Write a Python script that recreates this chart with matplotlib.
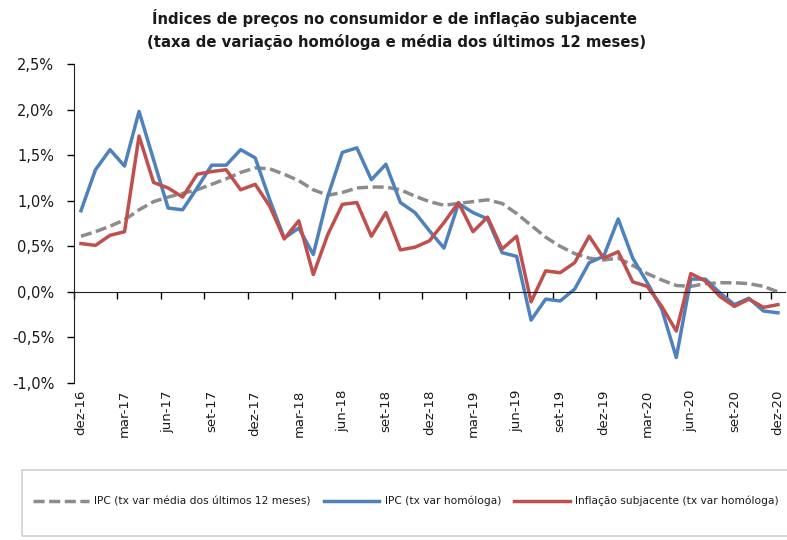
import matplotlib
matplotlib.use("Agg")
import matplotlib.pyplot as plt
from matplotlib.patches import Rectangle
from matplotlib.ticker import FuncFormatter

# dez-16 .. dez-20, monthly (49 points)
ipc_media12 = [0.61, 0.66, 0.72, 0.79, 0.90, 0.99, 1.04, 1.08, 1.12, 1.18, 1.24, 1.31, 1.36,
               1.35, 1.29, 1.22, 1.12, 1.06, 1.09, 1.14, 1.15, 1.15, 1.12, 1.05, 0.99,
               0.95, 0.97, 0.99, 1.01, 0.97, 0.86, 0.73, 0.60, 0.50, 0.42, 0.37, 0.35,
               0.37, 0.29, 0.20, 0.13, 0.07, 0.06, 0.09, 0.10, 0.10, 0.09, 0.06, 0.00]
ipc_homologa = [0.89, 1.34, 1.56, 1.38, 1.98, 1.45, 0.92, 0.90, 1.14, 1.39, 1.39, 1.56, 1.47,
                1.01, 0.59, 0.70, 0.41, 1.05, 1.53, 1.58, 1.23, 1.40, 0.98, 0.87, 0.67,
                0.48, 0.97, 0.87, 0.80, 0.43, 0.39, -0.31, -0.08, -0.10, 0.03, 0.32, 0.39,
                0.80, 0.37, 0.10, -0.19, -0.72, 0.14, 0.14, -0.01, -0.14, -0.07, -0.21, -0.23]
subjacente = [0.53, 0.51, 0.62, 0.66, 1.71, 1.20, 1.14, 1.04, 1.29, 1.32, 1.34, 1.12, 1.18,
              0.94, 0.58, 0.78, 0.19, 0.63, 0.96, 0.98, 0.61, 0.87, 0.46, 0.49, 0.56,
              0.76, 0.98, 0.66, 0.82, 0.47, 0.61, -0.11, 0.23, 0.21, 0.32, 0.61, 0.37,
              0.44, 0.11, 0.06, -0.16, -0.43, 0.20, 0.12, -0.05, -0.16, -0.08, -0.17, -0.14]
tick_labels = ['dez-16', 'mar-17', 'jun-17', 'set-17', 'dez-17', 'mar-18', 'jun-18', 'set-18',
               'dez-18', 'mar-19', 'jun-19', 'set-19', 'dez-19', 'mar-20', 'jun-20', 'set-20',
               'dez-20']
y_ticks = [-1.0, -0.5, 0.0, 0.5, 1.0, 1.5, 2.0, 2.5]

labels = ['IPC (tx var média dos últimos 12 meses)', 'IPC (tx var homóloga)',
          'Inflação subjacente (tx var homóloga)']

txt = '#1a1a1a'
x = list(range(len(ipc_homologa)))

fig = plt.figure(figsize=(7.87, 5.40), dpi=100)
ax = fig.add_axes([73.7 / 787, 1 - 383 / 540, 711.5 / 787, 319 / 540])

ax.plot(x, ipc_media12, color='#8c8c8c', lw=2.5, dashes=(3.2, 1.3), label=labels[0])
ax.plot(x, ipc_homologa, color='#4F81BD', lw=2.5, label=labels[1])
ax.plot(x, subjacente, color='#C0504D', lw=2.5, label=labels[2])

ax.set_xlim(-0.5, len(x) - 0.5)
ax.set_ylim(-1.0, 2.5)
ax.set_yticks(y_ticks)
ax.yaxis.set_major_formatter(FuncFormatter(lambda v, p: f'{v:.1f}%'.replace('.', ',')))
ax.tick_params(axis='y', direction='out', length=5, width=1, labelsize=10.5, labelcolor=txt, pad=9)

ax.spines['top'].set_visible(False)
ax.spines['right'].set_visible(False)
ax.spines['bottom'].set_position(('data', 0))
ax.spines['left'].set_color('#222222')
ax.spines['bottom'].set_color('#222222')

# category ticks on the zero line, labels at the bottom
ax.set_xticks([i - 0.5 for i in range(0, len(x) + 1, 3)])
ax.tick_params(axis='x', direction='out', length=5, width=1, labelbottom=False)
for k, lab in enumerate(tick_labels):
    ax.text(k * 3, -0.022, lab, transform=ax.get_xaxis_transform(), rotation=90,
            ha='center', va='top', fontsize=9.5, color=txt)

fig.text(395 / 787, 1 - 18 / 540, 'Índices de preços no consumidor e de inflação subjacente',
         ha='center', va='center', fontsize=10.7, fontweight='bold', color=txt)
fig.text(397 / 787, 1 - 42 / 540, '(taxa de variação homóloga e média dos últimos 12 meses)',
         ha='center', va='center', fontsize=10.7, fontweight='bold', color=txt)

fig.legend(loc='center', bbox_to_anchor=(406 / 787, 1 - 501 / 540), ncol=3, frameon=False,
           fontsize=7.7, handlelength=5.2, handletextpad=0.5, columnspacing=1.2,
           labelcolor=txt)
fig.add_artist(Rectangle((21.7 / 787, 1 - 536 / 540), 1.0, 66 / 540, transform=fig.transFigure,
                         fill=False, edgecolor='#d0d0d0', lw=1.2, clip_on=False))

fig.savefig('out.png', dpi=100, facecolor='white')
